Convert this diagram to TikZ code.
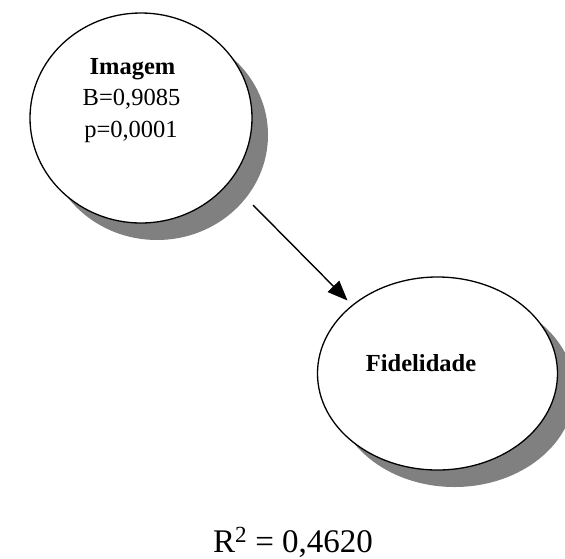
\documentclass[tikz,border=0pt]{standalone}
\usepackage{fontspec}
\setmainfont{Liberation Serif}
\usetikzlibrary{shapes.geometric,arrows.meta}
\definecolor{shadowgray}{HTML}{808080}
\tikzset{
  construct/.style={ellipse, draw=black, line width=1.3pt, fill=white, inner sep=0pt},
  shadowfill/.style={fill=shadowgray},
  lbl/.style={inner sep=0pt, font=\fontsize{24.5}{24.5}\selectfont},
  lblbold/.style={lbl, font=\fontsize{24.5}{24.5}\selectfont\bfseries},
  path arrow/.style={line width=1.4pt, -{Triangle[length=20pt,width=16pt]}}
}
\begin{document}
\begin{tikzpicture}[x=1pt,y=-1pt]
  \useasboundingbox (0,0) rectangle (565,558);

  % drop shadows behind the two constructs
  \fill[shadowfill] (157,135) ellipse (111 and 105);
  \fill[shadowfill] (454.5,390.5) ellipse (120 and 96.5);

  % constructs
  \node[construct, minimum width=222pt, minimum height=210pt] (img) at (141,118) {};
  \node[construct, minimum width=240pt, minimum height=193pt] (fid) at (437.5,373.5) {};

  % labels inside the constructs
  \node[lblbold] (imgname) at (132.5,69) {Imagem};
  \node[lbl] (imgb) at (131.5,99) {B=0,9085};
  \node[lbl] (imgp) at (131,132) {p=0,0001};
  \node[lblbold] (fidname) at (421,363) {Fidelidade};

  % structural path
  \draw[path arrow] ([shift={(112pt,-87pt)}]img.center) -- ([shift={(-90pt,73pt)}]fid.center);

  % explained variance
  \node[inner sep=0pt, anchor=base, font=\fontsize{33}{33}\selectfont] (rsq) at (293,552) {R\textsuperscript{2} = 0,4620};
\end{tikzpicture}
\end{document}
